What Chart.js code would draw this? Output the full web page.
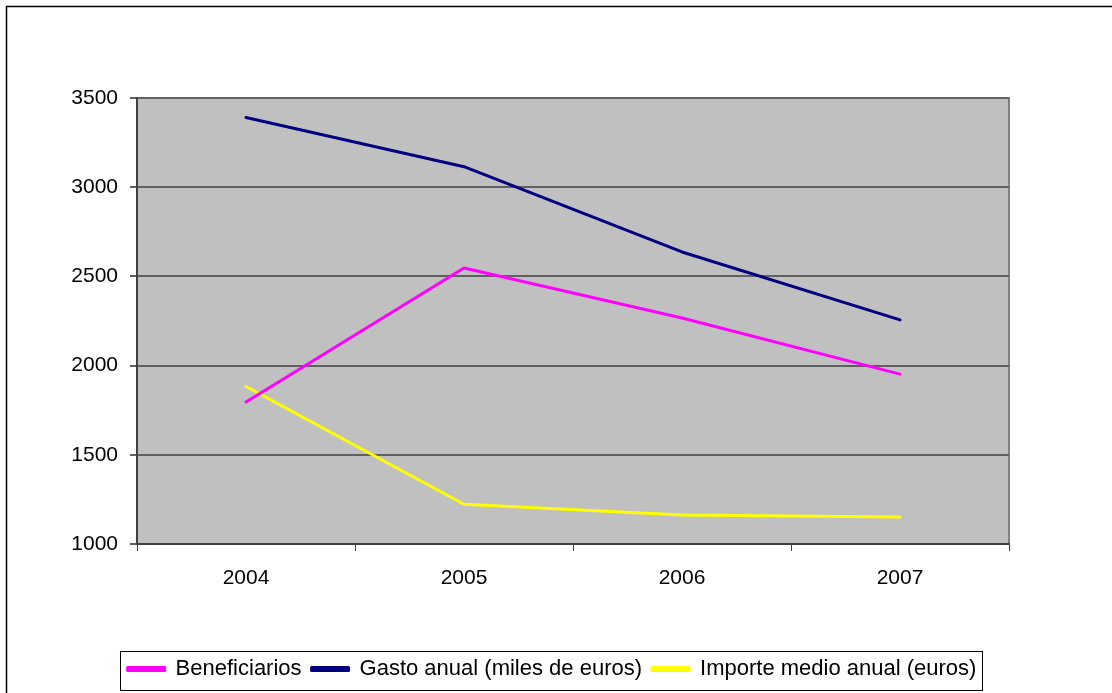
<!DOCTYPE html>
<html><head><meta charset="utf-8">
<script src="https://cdn.jsdelivr.net/npm/chart.js@4.4.0/dist/chart.umd.min.js"></script>
<style>html,body{margin:0;padding:0;background:#fff}#wrap{width:1112px;height:693px;position:relative}</style>
</head><body><div id="wrap"><canvas id="c" width="1112" height="693"></canvas></div>
<script>
const categories = ['2004', '2005', '2006', '2007'];
const beneficiarios = [1796, 2547, 2267, 1952];
const gastoAnual = [3391, 3115, 2637, 2256];
const importeMedio = [1883, 1223, 1162, 1151];
const yTicks = [1000, 1500, 2000, 2500, 3000, 3500];

const FONT = "'Liberation Sans', Arial, sans-serif";

const decor = {
  id: 'decor',
  beforeDraw(chart) {
    const {ctx, chartArea: a} = chart;
    ctx.save();
    ctx.fillStyle = '#C0C0C0';
    ctx.fillRect(a.left, a.top, a.right - a.left, a.bottom - a.top);
    ctx.strokeStyle = '#808080';
    ctx.lineWidth = 2;
    ctx.beginPath();
    ctx.moveTo(a.left, a.top);
    ctx.lineTo(a.right, a.top);
    ctx.lineTo(a.right, a.bottom);
    ctx.stroke();
    ctx.strokeStyle = '#000';
    ctx.lineWidth = 1.5;
    ctx.beginPath();
    ctx.moveTo(6.5, 693);
    ctx.lineTo(6.5, 6.5);
    ctx.lineTo(1112, 6.5);
    ctx.stroke();
    ctx.restore();
  },
  afterDraw(chart) {
    const lg = chart.legend;
    if (!lg || !lg.legendHitBoxes || !lg.legendHitBoxes.length) return;
    const hb = lg.legendHitBoxes;
    const first = hb[0], last = hb[hb.length - 1];
    const x0 = Math.round(first.left) - 7.5;
    const x1 = Math.round(last.left + last.width) + 6.5;
    const cy = first.top + first.height / 2;
    const ctx = chart.ctx;
    ctx.save();
    ctx.strokeStyle = '#000';
    ctx.lineWidth = 1;
    ctx.strokeRect(x0, Math.round(cy - 18) + 0.5, x1 - x0, 39);
    ctx.restore();
  }
};

new Chart(document.getElementById('c'), {
  type: 'line',
  data: {
    labels: categories,
    datasets: [
      {label: 'Beneficiarios', data: beneficiarios, borderColor: '#FF00FF', backgroundColor: '#FF00FF'},
      {label: 'Gasto anual (miles de euros)', data: gastoAnual, borderColor: '#000080', backgroundColor: '#000080'},
      {label: 'Importe medio anual (euros)', data: importeMedio, borderColor: '#FFFF00', backgroundColor: '#FFFF00'}
    ]
  },
  options: {
    responsive: false,
    animation: false,
    devicePixelRatio: 1,
    layout: {padding: {left: 0, top: 98, right: 8, bottom: 3}},
    elements: {
      line: {borderWidth: 3, tension: 0, borderCapStyle: 'round', borderJoinStyle: 'round'},
      point: {radius: 0, hoverRadius: 0}
    },
    plugins: {
      legend: {
        position: 'bottom',
        labels: {
          font: {family: FONT, size: 22},
          color: '#000',
          boxWidth: 37,
          boxHeight: 3,
          padding: 10
        }
      },
      tooltip: {enabled: false}
    },
    scales: {
      x: {
        offset: true,
        afterFit(s) { s.height = 104; },
        grid: {display: true, drawOnChartArea: false, drawTicks: true, tickLength: 7, color: '#404040', offset: true},
        border: {display: true, color: '#404040', width: 2},
        ticks: {font: {family: FONT, size: 21}, color: '#000', padding: 15, maxRotation: 0}
      },
      y: {
        min: 1000,
        max: 3500,
        afterFit(s) { s.width = 137; },
        afterBuildTicks(s) { s.ticks = yTicks.map(v => ({value: v})); },
        grid: {color: '#606060', lineWidth: 2, tickLength: 7, drawTicks: true},
        border: {display: true, color: '#404040', width: 2},
        ticks: {font: {family: FONT, size: 21}, color: '#000', padding: 12, callback: v => String(v)}
      },
      yRight: {
        position: 'right',
        display: true,
        afterFit(s) { s.width = 95; },
        grid: {display: false, drawTicks: false},
        border: {display: false},
        ticks: {display: false}
      }
    }
  },
  plugins: [decor]
});
</script></body></html>
